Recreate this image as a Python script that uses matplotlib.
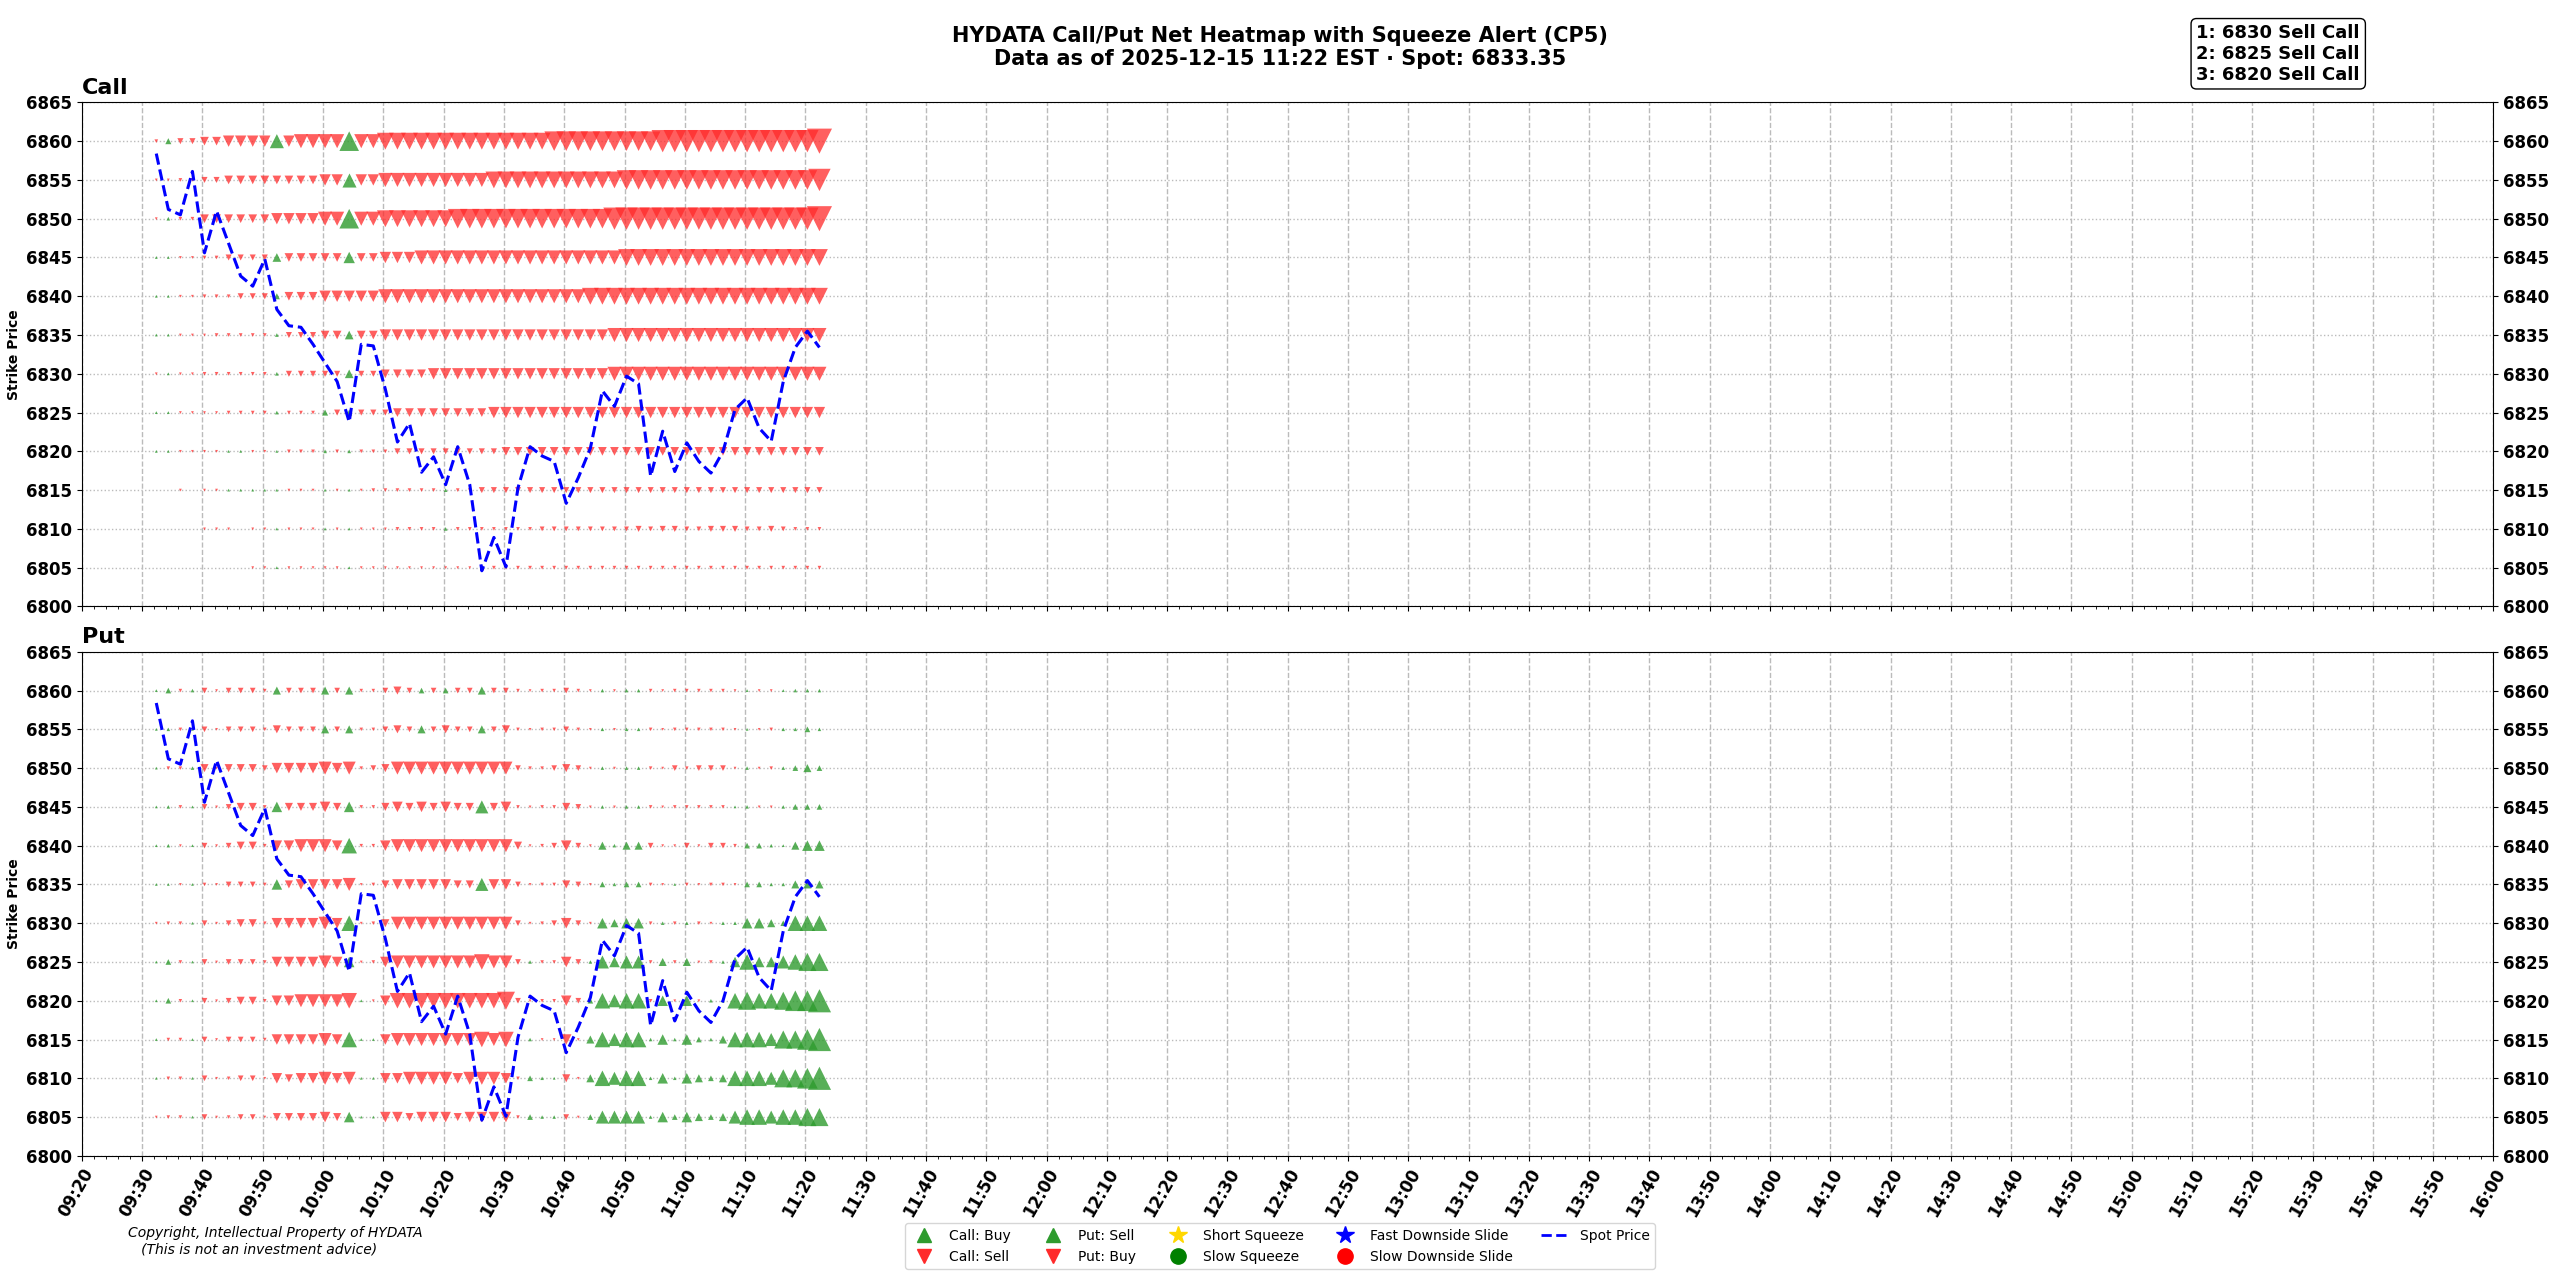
import matplotlib

matplotlib.use("Agg")
import matplotlib.dates as mdates
import matplotlib.pyplot as plt
import numpy as np
import pandas as pd
from matplotlib.lines import Line2D

# ---- data ----
times = pd.date_range("2025-12-15 09:32:20", periods=56, freq="2min")
strikes = [6860, 6855, 6850, 6845, 6840, 6835, 6830, 6825, 6820, 6815, 6810, 6805]

# + = up triangle (green), - = down triangle (red); magnitude ~ marker width
call_net = {
    6860: [-1, 2, -2, -2, -3, -3, -4, -4, -4, -4, 5, -4, -5, -5, -5, -5, 7, -5, -5, -6, -6, -6, -6, -6,
           -6, -6, -6, -6, -6, -6, -6, -6, -6, -7, -7, -7, -7, -7, -7, -7, -7, -7, -8, -8, -8, -8, -8, -8,
           -8, -8, -8, -8, -8, -8, -8, -9],
    6855: [-0.5, -0.5, -1, -1, -2, -2, -3, -3, -3, -3, -3, -3, -3, -3, -4, -4, 5, -4, -4, -5, -5, -5, -5, -5,
           -5, -5, -5, -5, -6, -6, -6, -6, -6, -6, -6, -6, -6, -6, -6, -7, -7, -7, -7, -7, -7, -7, -7, -7,
           -7, -7, -7, -7, -7, -7, -7, -8],
    6850: [-0.5, 1, -1, -1, -3, -3, -3, -3, -3, -3, -4, -4, -4, -4, -5, -5, 7, -5, -5, -6, -6, -6, -6, -6,
           -6, -7, -7, -7, -7, -7, -7, -7, -7, -7, -7, -7, -7, -7, -8, -8, -8, -8, -8, -8, -8, -8, -8, -8,
           -8, -8, -8, -8, -8, -8, -8, -9],
    6845: [0.5, 0.5, -0.5, -0.5, -1, -1, -2, -2, -2, -2, 3, -3, -3, -3, -3, -3, 4, -3, -3, -4, -4, -4, -5, -5,
           -5, -5, -5, -5, -5, -5, -5, -5, -5, -5, -5, -5, -5, -5, -5, -6, -6, -6, -6, -6, -6, -6, -6, -6,
           -6, -6, -6, -6, -6, -6, -6, -6],
    6840: [0.5, 0.5, -0.5, -0.5, -1, -1, -1, -2, -2, -2, 2, -3, -3, -3, -4, -4, -4, -4, -4, -5, -5, -5, -5, -5,
           -5, -5, -5, -5, -5, -5, -5, -5, -5, -5, -5, -5, -6, -6, -6, -6, -6, -6, -6, -6, -6, -6, -6, -6,
           -6, -6, -6, -6, -6, -6, -6, -6],
    6835: [0.5, 0.5, -0.5, -0.5, -0.5, -1, -1, -1, -1, -1, 1, -2, -2, -2, -3, -3, 3, -3, -3, -4, -4, -4, -4, -4,
           -4, -4, -4, -4, -4, -4, -4, -4, -4, -4, -4, -4, -4, -4, -5, -5, -5, -5, -5, -5, -5, -5, -5, -5,
           -5, -5, -5, -5, -5, -5, -5, -5],
    6830: [-0.5, 0.5, -0.5, -0.5, -1, -1, -1, -1, -1, -1, 1, -2, -2, -2, -2, -2, 3, -2, -2, -3, -3, -3, -3, -4,
           -4, -4, -4, -4, -4, -4, -4, -4, -4, -4, -4, -4, -4, -4, -5, -5, -5, -5, -5, -5, -5, -5, -5, -5,
           -5, -5, -5, -5, -5, -5, -5, -5],
    6825: [0.5, 0.5, -0.5, -0.5, -0.5, -0.5, -1, -1, -1, -1, 1, -1, -1, -1, 2, -2, 2, -2, -2, -2, -3, -3, -3, -3,
           -3, -3, -3, -3, -4, -4, -4, -4, -4, -4, -4, -4, -4, -4, -4, -4, -4, -4, -4, -4, -4, -4, -4, -4,
           -4, -4, -4, -4, -4, -4, -4, -4],
    6820: [0.5, 0.5, -0.5, -0.5, -0.5, -0.5, 0.5, 0.5, -0.5, -0.5, 0.5, -1, -1, -1, 1, -1, 1, -1, -1, -1, -2, -2, -2, -2,
           -2, -2, -2, -2, -2, -3, -3, -3, -3, -3, -3, -3, -3, -3, -3, -3, -3, -3, -3, -3, -3, -3, -3, -3,
           -3, -3, -3, -3, -3, -3, -3, -3],
    6815: [0, 0, -0.5, 0, -0.5, -0.5, 0.5, 0.5, 0.5, 0.5, 0.5, -0.5, -0.5, -0.5, 0.5, -0.5, 0.5, -0.5, -1, -1, -1, -1, -1, -1,
           1, -1, -1, -2, -2, -2, -2, -2, -2, -2, -2, -2, -2, -2, -2, -2, -2, -2, -2, -2, -2, -2, -2, -2,
           -2, -2, -2, -2, -2, -2, -2, -2],
    6810: [0, 0, 0, 0, -0.5, -0.5, -0.5, 0, -0.5, -0.5, 0.5, -0.5, -0.5, -0.5, 0.5, -0.5, 0.5, -0.5, -0.5, -0.5, -1, -1, -1, -1,
           1, -1, -1, -1, -1, -1, -1, -1, -1.5, -1.5, -1.5, -1.5, -1.5, -1.5, -1.5, -1.5, -2, -1.5, -2, -2, -1.5, -1.5, -2, -2,
           -2, -1.5, -1.5, -2, -1.5, -1, -1, -1],
    6805: [0, 0, 0, 0, 0, 0, 0, 0, -0.5, -0.5, 0.5, -0.5, -0.5, -0.5, -0.5, -0.5, 0.5, -0.5, -0.5, -0.5, -0.5, -0.5, -0.5, -0.5,
           -0.5, -0.5, -0.5, -1, -1, -1, -1, -1, -1, -1, -1, -1, -1, -1, -1, -1, -1, -1, -1, -1, -1, -1, -1, -1,
           -1, -1, -1, -1, -1, -1, -1, -1],
}

put_net = {
    6860: [0.5, 2, -1, 1, -2, -0.5, -2, -2, -2, -1, 3, -2, -2, -2, 3, -2, 3, -1, -1, -2, -3, -2, 2, -2,
           2, -2, -2, 3, -2, -2, -1, -0.5, -1, -1, -2, -1, -0.5, 1, -0.5, 1, 1, -1, -0.5, -1, -1, -1, -1, -1,
           -0.5, 0.5, -0.5, -0.5, 0.5, 1, 1, 1],
    6855: [0.5, 1, -1, 0.5, -2, -0.5, -2, -2, -2, -1, -3, -2, -2, -2, 3, -2, 3, -1, -1, -2, -3, -2, 3, -2,
           -3, -2, -2, 3, -2, -3, -1, -0.5, -1, -1, -2, -1, -0.5, 1, -0.5, 1, 1, -1, -0.5, -1, -1, -1, -1, -1,
           -0.5, 0.5, -0.5, -1, 1, 1, 2, 1],
    6850: [0.5, -1, -1, 1, -3, -0.5, -3, -3, -3, -2, -4, -4, -4, -4, -5, -4, -5, -1, -2, -3, -5, -5, -5, -5,
           -5, -5, -5, -5, -5, -5, -2, -1, -1, -2, -3, -2, -0.5, 1, -0.5, 1, 1, -1, -0.5, -2, -1, -2, -2, -2,
           -0.5, 1, -0.5, -1, 1, 2, 3, 2],
    6845: [0.5, 1, -1, 0.5, -2, -0.5, -2, -3, -3, -1, 4, -3, -3, -3, -4, -3, 4, -1, -1, -3, -4, -3, -4, -3,
           -4, -3, -3, 5, -3, -4, -1, -0.5, -1, -1, -3, -2, -0.5, 1, -0.5, 1, 1, -1, -0.5, -1, -1, -1, -1, -1,
           0.5, 1, -0.5, -0.5, 1, 2, 2, 2],
    6840: [0.5, 1, -0.5, 0.5, -2, -0.5, -2, -3, -3, -1, -4, -4, -5, -5, -5, -4, 6, -1, -1, -4, -5, -5, -5, -5,
           -5, -5, -5, -5, -5, -5, -3, -0.5, -1, -2, -4, -2, -0.5, 3, 1, 3, 3, -2, -0.5, -0.5, -2, -0.5, -2, -2,
           -1, 2, 2, 1, 0.5, 3, 4, 4],
    6835: [0.5, 0.5, -0.5, 0.5, -1, -0.5, -2, -2, -2, -1, 4, -3, -4, -4, -4, -4, -5, -0.5, -1, -3, -4, -4, -4, -4,
           -4, -3, -3, 5, -4, -4, -2, -0.5, -1, -1, -3, -2, -0.5, 2, 1, 2, 2, -1, -0.5, 0.5, -1, -0.5, -1, -1,
           -0.5, 2, 2, 1, 1, 3, 3, 3],
    6830: [-0.5, -1, -1, 0.5, -2, -0.5, -2, -3, -3, -1, -4, -4, -4, -4, -5, -4, 6, -0.5, -1, -3, -5, -5, -5, -5,
           -5, -5, -5, -5, -5, -5, -2, -0.5, -1, -2, -4, -2, -0.5, 4, 3, 4, 4, -1, 1, -1, 1, -1, -0.5, 1,
           1, 4, 4, 3, 2, 6, 6, 6],
    6825: [0.5, 2, -1, 0.5, -2, -0.5, -2, -2, -2, -1, -4, -4, -4, -4, -5, -4, 4, -0.5, -1, -4, -5, -5, -5, -5,
           -5, -5, -5, -6, -5, -5, -2, 1, -1, -1, -4, -2, 1, 5, 4, 5, 5, -1, 3, -1, 3, -0.5, -1, 1,
           4, 6, 4, 4, 5, 6, 7, 7],
    6820: [0.5, 2, -1, 0.5, -2, -0.5, -2, -3, -3, -1, -4, -4, -5, -5, -5, -5, -6, 0.5, -0.5, -4, -6, -6, -6, -6,
           -6, -6, -6, -6, -6, -7, -2, -0.5, -1, -1, -4, -2, 2, 6, 5, 6, 6, -1, 4, -0.5, 4, -0.5, 1, 1,
           6, 7, 6, 6, 7, 8, 8, 9],
    6815: [0.5, -1, -1, 0.5, -2, -0.5, -2, -2, -2, -1, -4, -4, -4, -4, -5, -4, 6, 0.5, 0.5, -4, -5, -5, -5, -5,
           -5, -5, -5, -6, -5, -6, -0.5, 1, -0.5, -0.5, -4, -0.5, 3, 6, 5, 6, 6, 1, 4, 1, 4, 2, 1, 3,
           6, 6, 6, 5, 7, 7, 8, 9],
    6810: [0.5, -1, -1, 0.5, -2, -0.5, -1, -2, -2, -0.5, -4, -3, -4, -4, -5, -4, -5, 0.5, 0.5, -4, -4, -5, -5, -5,
           -5, -4, -5, -5, -5, -4, -1, 2, 1, 0.5, -3, -0.5, 3, 6, 5, 6, 6, 1, 4, 1, 4, 3, 2, 3,
           6, 6, 6, 5, 7, 7, 8, 9],
    6805: [-0.5, -1, -1, 0.5, -2, -0.5, -1, -2, -2, -0.5, -3, -3, -3, -3, -4, -3, 4, 0.5, 0.5, -4, -4, -3, -4, -4,
           -4, -3, -4, -4, -4, -4, -1, 2, 1, 1, -2, -0.5, 2, 5, 5, 5, 5, 1, 4, 2, 4, 3, 2, 3,
           5, 6, 6, 5, 6, 6, 7, 7],
}

spot = [6858.4, 6851.2, 6850.5, 6856.1, 6845.6, 6851.0, 6846.8, 6842.6,
        6841.3, 6844.8, 6838.3, 6836.2, 6836.0, 6833.8, 6831.4, 6829.0,
        6823.8, 6833.8, 6833.6, 6828.0, 6821.2, 6823.6, 6817.3, 6819.3,
        6815.7, 6820.6, 6815.7, 6804.6, 6808.9, 6805.1, 6815.3, 6820.6,
        6819.4, 6818.7, 6813.3, 6816.6, 6820.4, 6827.8, 6825.8, 6829.7,
        6828.7, 6816.8, 6822.6, 6817.4, 6821.1, 6818.7, 6817.2, 6820.0,
        6825.4, 6826.9, 6823.0, 6821.3, 6829.0, 6833.4, 6835.5, 6833.4]

alerts = ["1: 6830 Sell Call", "2: 6825 Sell Call", "3: 6820 Sell Call"]

RED = "#ff2a2a"
GREEN = "#2e9b2e"


def draw_panel(ax, net, size_k, title):
    for strike in strikes:
        vals = np.asarray(net[strike], dtype=float)
        up = vals > 0
        dn = vals < 0
        ax.scatter(times[up], np.full(up.sum(), strike), marker="^", s=size_k * vals[up] ** 2 + 3,
                   color=GREEN, alpha=0.8, linewidths=0, zorder=3)
        ax.scatter(times[dn], np.full(dn.sum(), strike), marker="v", s=size_k * vals[dn] ** 2 + 3,
                   color=RED, alpha=0.75, linewidths=0, zorder=3)
    ax.plot(times, spot, color="blue", linestyle="--", linewidth=2.2, zorder=4)
    ax.set_ylim(6800, 6865)
    ax.set_yticks(np.arange(6800, 6866, 5))
    ax.set_xlim(pd.Timestamp("2025-12-15 09:20"), pd.Timestamp("2025-12-15 16:00"))
    ax.xaxis.set_major_locator(mdates.MinuteLocator(byminute=range(0, 60, 10)))
    ax.xaxis.set_minor_locator(mdates.MinuteLocator(byminute=range(0, 60, 2)))
    ax.xaxis.set_major_formatter(mdates.DateFormatter("%H:%M"))
    ax.grid(axis="y", linestyle=":", color="#bbbbbb", linewidth=1.0)
    ax.grid(axis="x", which="major", linestyle="--", color="#bbbbbb", linewidth=1.0)
    ax.set_ylabel("Strike Price", fontsize=10, fontweight="bold")
    ax.set_title(title, loc="left", fontsize=16, fontweight="bold")
    ax.tick_params(axis="y", labelsize=12, right=True, labelright=True)
    for lab in ax.get_yticklabels():
        lab.set_fontweight("bold")


fig, (ax_c, ax_p) = plt.subplots(2, 1, figsize=(25.6, 12.8), dpi=100, sharex=True)
fig.subplots_adjust(left=0.032, right=0.974, top=0.92, bottom=0.097, hspace=0.09)

draw_panel(ax_c, call_net, 4.0, "Call")
draw_panel(ax_p, put_net, 3.4, "Put")

ax_c.tick_params(axis="x", labelbottom=False)
plt.setp(ax_p.get_xticklabels(), rotation=60, ha="right", rotation_mode="anchor",
         fontsize=12, fontweight="bold")

fig.suptitle("HYDATA Call/Put Net Heatmap with Squeeze Alert (CP5)\nData as of 2025-12-15 11:22 EST · Spot: 6833.35",
             fontsize=15, fontweight="bold", y=0.98)

fig.text(0.858, 0.958, "\n".join(alerts), fontsize=13, fontweight="bold", va="center", ha="left",
         bbox={"boxstyle": "round,pad=0.3", "facecolor": "white", "edgecolor": "black"})

fig.text(0.05, 0.03, "Copyright, Intellectual Property of HYDATA\n   (This is not an investment advice)",
         fontsize=10, style="italic", va="center")

handles = [
    Line2D([], [], marker="^", color=GREEN, linestyle="", markersize=10, label="Call: Buy"),
    Line2D([], [], marker="v", color=RED, linestyle="", markersize=10, label="Call: Sell"),
    Line2D([], [], marker="^", color=GREEN, linestyle="", markersize=10, label="Put: Sell"),
    Line2D([], [], marker="v", color=RED, linestyle="", markersize=10, label="Put: Buy"),
    Line2D([], [], marker="*", color="gold", linestyle="", markersize=13, label="Short Squeeze"),
    Line2D([], [], marker="o", color="green", linestyle="", markersize=11, label="Slow Squeeze"),
    Line2D([], [], marker="*", color="blue", linestyle="", markersize=13, label="Fast Downside Slide"),
    Line2D([], [], marker="o", color="red", linestyle="", markersize=11, label="Slow Downside Slide"),
    Line2D([], [], color="blue", linestyle="--", linewidth=2, label="Spot Price"),
]
fig.legend(handles=handles, loc="lower center", ncol=5, fontsize=10, bbox_to_anchor=(0.5, 0.003),
           frameon=True)

fig.savefig("out.png", dpi=100)
